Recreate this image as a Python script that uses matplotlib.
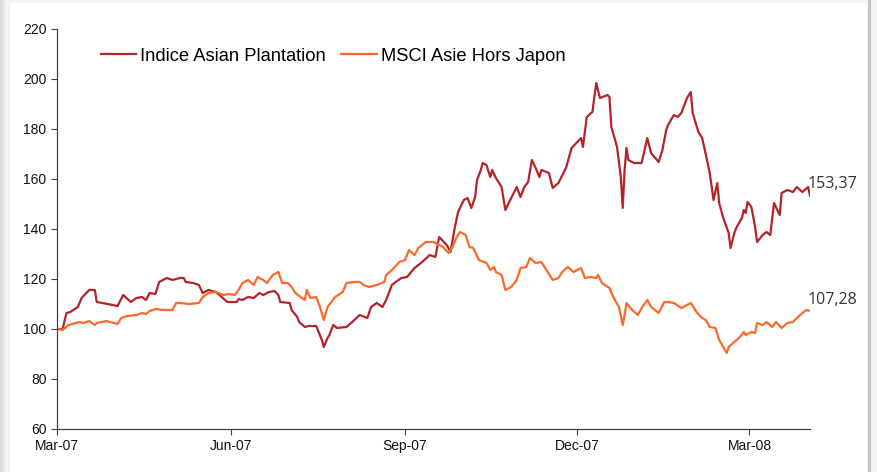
import numpy as np
import pandas as pd
import matplotlib
matplotlib.use("Agg")
import matplotlib.pyplot as plt
import matplotlib.dates as mdates
from matplotlib.patches import Rectangle

# Indice Asian Plantation (base 100)
dates_plant = [
    "2007-03-01", "2007-03-04", "2007-03-06", "2007-03-08", "2007-03-12", "2007-03-14",
    "2007-03-18", "2007-03-21", "2007-03-22", "2007-03-25", "2007-04-02", "2007-04-05",
    "2007-04-09", "2007-04-12", "2007-04-15", "2007-04-17", "2007-04-19", "2007-04-22",
    "2007-04-24", "2007-04-28", "2007-05-01", "2007-05-05", "2007-05-07", "2007-05-08",
    "2007-05-12", "2007-05-15", "2007-05-17", "2007-05-20", "2007-05-24", "2007-05-27",
    "2007-05-30", "2007-06-04", "2007-06-05", "2007-06-07", "2007-06-10", "2007-06-13",
    "2007-06-16", "2007-06-18", "2007-06-21", "2007-06-24", "2007-06-26", "2007-06-27",
    "2007-07-02", "2007-07-03", "2007-07-06", "2007-07-07", "2007-07-10", "2007-07-12",
    "2007-07-16", "2007-07-19", "2007-07-20", "2007-07-22", "2007-07-23", "2007-07-25",
    "2007-07-27", "2007-08-01", "2007-08-04", "2007-08-08", "2007-08-12", "2007-08-14",
    "2007-08-17", "2007-08-20", "2007-08-22", "2007-08-25", "2007-08-27", "2007-08-30",
    "2007-09-02", "2007-09-06", "2007-09-08", "2007-09-10", "2007-09-14", "2007-09-17",
    "2007-09-19", "2007-09-23", "2007-09-25", "2007-09-27", "2007-09-29", "2007-10-02",
    "2007-10-04", "2007-10-06", "2007-10-08", "2007-10-09", "2007-10-11", "2007-10-12",
    "2007-10-14", "2007-10-16", "2007-10-17", "2007-10-19", "2007-10-22", "2007-10-24",
    "2007-10-26", "2007-10-30", "2007-11-01", "2007-11-03", "2007-11-05", "2007-11-07",
    "2007-11-09", "2007-11-11", "2007-11-12", "2007-11-16", "2007-11-18", "2007-11-21",
    "2007-11-25", "2007-11-28", "2007-12-03", "2007-12-04", "2007-12-06", "2007-12-09",
    "2007-12-11", "2007-12-13", "2007-12-17", "2007-12-18", "2007-12-19", "2007-12-22",
    "2007-12-24", "2007-12-25", "2007-12-26", "2007-12-27", "2007-12-28", "2007-12-31",
    "2008-01-04", "2008-01-07", "2008-01-09", "2008-01-13", "2008-01-15", "2008-01-17",
    "2008-01-18", "2008-01-21", "2008-01-23", "2008-01-25", "2008-01-28", "2008-01-30",
    "2008-01-31", "2008-02-03", "2008-02-05", "2008-02-07", "2008-02-09", "2008-02-11",
    "2008-02-13", "2008-02-14", "2008-02-16", "2008-02-19", "2008-02-20", "2008-02-22",
    "2008-02-23", "2008-02-26", "2008-02-27", "2008-02-28", "2008-02-29", "2008-03-02",
    "2008-03-04", "2008-03-05", "2008-03-08", "2008-03-10", "2008-03-12", "2008-03-14",
    "2008-03-17", "2008-03-18", "2008-03-21", "2008-03-24", "2008-03-26", "2008-03-29",
    "2008-04-01", "2008-04-02",
]
values_plant = [
    100.0, 100.0, 106.4, 106.8, 108.8, 112.4,
    115.6, 115.6, 110.8, 110.4, 109.2, 113.6,
    110.8, 112.4, 112.8, 111.6, 114.4, 114.0,
    118.8, 120.4, 119.6, 120.4, 120.4, 118.8,
    118.4, 117.6, 114.4, 115.6, 114.8, 112.8,
    110.8, 110.8, 112.0, 111.6, 112.8, 112.4,
    114.4, 113.6, 114.8, 115.2, 113.6, 110.8,
    110.4, 107.6, 104.8, 102.8, 100.8, 101.2,
    101.2, 95.6, 92.8, 96.4, 97.6, 101.6,
    100.4, 100.8, 102.8, 105.6, 104.4, 108.8,
    110.4, 108.8, 111.6, 117.6, 118.8, 120.4,
    120.8, 124.4, 125.6, 126.8, 129.6, 128.8,
    136.8, 133.6, 130.8, 139.6, 146.8, 151.6,
    152.4, 148.4, 152.8, 159.6, 163.6, 166.4,
    165.6, 160.8, 163.6, 160.4, 156.8, 147.6,
    150.8, 156.8, 152.8, 156.8, 158.8, 167.6,
    164.4, 160.8, 163.6, 162.4, 156.4, 158.4,
    164.4, 172.4, 176.4, 172.8, 184.8, 186.8,
    198.4, 192.4, 193.6, 192.8, 180.8, 172.8,
    160.8, 148.4, 163.6, 172.4, 167.6, 166.4,
    166.4, 176.4, 170.4, 166.8, 171.6, 179.6,
    181.6, 185.6, 184.8, 186.4, 192.4, 194.8,
    186.4, 178.8, 176.4, 169.6, 162.4, 151.6,
    158.4, 150.4, 144.8, 138.4, 132.4, 138.4,
    140.4, 144.4, 147.6, 146.4, 150.8, 148.8,
    140.8, 134.8, 137.6, 138.8, 137.6, 150.4,
    145.6, 154.4, 155.6, 154.8, 156.8, 154.8,
    156.8, 153.37,
]

# MSCI Asie Hors Japon (base 100)
dates_msci = [
    "2007-03-01", "2007-03-04", "2007-03-07", "2007-03-13", "2007-03-15", "2007-03-18",
    "2007-03-21", "2007-03-22", "2007-03-27", "2007-04-02", "2007-04-04", "2007-04-07",
    "2007-04-12", "2007-04-15", "2007-04-17", "2007-04-19", "2007-04-22", "2007-04-26",
    "2007-05-01", "2007-05-03", "2007-05-05", "2007-05-10", "2007-05-15", "2007-05-17",
    "2007-05-20", "2007-05-24", "2007-05-28", "2007-05-31", "2007-06-03", "2007-06-05",
    "2007-06-07", "2007-06-10", "2007-06-13", "2007-06-15", "2007-06-18", "2007-06-20",
    "2007-06-23", "2007-06-26", "2007-06-28", "2007-07-01", "2007-07-03", "2007-07-05",
    "2007-07-07", "2007-07-10", "2007-07-11", "2007-07-13", "2007-07-16", "2007-07-18",
    "2007-07-20", "2007-07-22", "2007-07-26", "2007-07-30", "2007-08-01", "2007-08-05",
    "2007-08-08", "2007-08-10", "2007-08-13", "2007-08-17", "2007-08-21", "2007-08-22",
    "2007-08-25", "2007-08-29", "2007-09-01", "2007-09-03", "2007-09-06", "2007-09-08",
    "2007-09-12", "2007-09-16", "2007-09-19", "2007-09-21", "2007-09-24", "2007-09-26",
    "2007-09-28", "2007-09-30", "2007-10-03", "2007-10-05", "2007-10-07", "2007-10-10",
    "2007-10-14", "2007-10-16", "2007-10-18", "2007-10-19", "2007-10-22", "2007-10-24",
    "2007-10-27", "2007-10-30", "2007-11-01", "2007-11-04", "2007-11-06", "2007-11-09",
    "2007-11-12", "2007-11-18", "2007-11-21", "2007-11-23", "2007-11-26", "2007-11-29",
    "2007-12-03", "2007-12-05", "2007-12-08", "2007-12-11", "2007-12-12", "2007-12-14",
    "2007-12-18", "2007-12-20", "2007-12-23", "2007-12-25", "2007-12-26", "2007-12-27",
    "2007-12-30", "2008-01-02", "2008-01-04", "2008-01-07", "2008-01-09", "2008-01-13",
    "2008-01-16", "2008-01-18", "2008-01-21", "2008-01-25", "2008-01-30", "2008-02-02",
    "2008-02-05", "2008-02-07", "2008-02-09", "2008-02-12", "2008-02-14", "2008-02-18",
    "2008-02-19", "2008-02-22", "2008-02-25", "2008-02-27", "2008-02-28", "2008-03-02",
    "2008-03-04", "2008-03-05", "2008-03-08", "2008-03-10", "2008-03-13", "2008-03-15",
    "2008-03-18", "2008-03-21", "2008-03-24", "2008-03-26", "2008-03-29", "2008-03-31",
    "2008-04-02",
]
values_msci = [
    100.0, 99.6, 101.6, 102.8, 102.4, 103.2,
    101.6, 102.4, 103.2, 102.0, 104.4, 105.2,
    105.6, 106.4, 106.0, 107.2, 108.0, 107.6,
    107.6, 110.4, 110.4, 110.0, 110.4, 112.8,
    114.4, 114.8, 113.6, 114.0, 113.6, 115.6,
    118.4, 119.6, 117.6, 120.8, 119.6, 118.4,
    121.6, 122.8, 118.4, 118.4, 116.8, 114.4,
    113.2, 111.6, 115.6, 112.4, 112.8, 108.8,
    103.6, 108.8, 112.8, 114.8, 118.4, 118.8,
    118.8, 117.6, 116.8, 117.6, 118.8, 121.6,
    123.6, 126.8, 127.6, 131.6, 129.6, 132.4,
    134.8, 134.8, 133.6, 132.8, 130.4, 132.8,
    136.4, 138.8, 137.6, 132.8, 132.4, 127.6,
    126.4, 123.6, 124.8, 122.8, 121.6, 115.6,
    116.8, 119.6, 124.4, 124.8, 128.4, 126.4,
    126.8, 119.6, 120.4, 122.8, 124.8, 122.8,
    124.4, 120.4, 120.8, 120.4, 121.6, 118.4,
    116.4, 112.8, 108.8, 101.6, 105.6, 110.4,
    107.6, 105.6, 108.4, 111.6, 108.8, 106.4,
    110.8, 110.8, 110.4, 108.4, 110.4, 106.8,
    104.4, 103.6, 100.8, 100.4, 95.6, 90.4,
    92.8, 94.8, 96.8, 98.8, 97.6, 98.8,
    98.4, 102.4, 101.6, 102.8, 100.8, 102.8,
    100.4, 102.4, 102.8, 104.4, 106.4, 107.6,
    107.28,
]

labels = ["Indice Asian Plantation", "MSCI Asie Hors Japon"]
end_labels = ["153,37", "107,28"]
colors = ["#b3242a", "#fb6a2c"]

plant = pd.Series(values_plant, index=pd.to_datetime(dates_plant))
msci = pd.Series(values_msci, index=pd.to_datetime(dates_msci))

plt.rcParams["font.family"] = ["Liberation Sans", "DejaVu Sans"]

fig = plt.figure(figsize=(8.78, 4.72), dpi=100)
fig.patch.set_facecolor("white")

# cadre gris autour du graphique (ombre)
fig.patches.append(Rectangle((0, 0), 1, 1, transform=fig.transFigure,
                             facecolor="#f3f3f3", edgecolor="none", zorder=-3))
for i, g in enumerate(np.linspace(0.85, 0.97, 8)):
    fig.patches.append(Rectangle((i / 878, 0), 1 / 878, 1, transform=fig.transFigure,
                                 facecolor=str(g), edgecolor="none", zorder=-2))
fig.patches.append(Rectangle((10 / 878, 0), 857 / 878, 1 - 3 / 472,
                             transform=fig.transFigure, facecolor="white",
                             edgecolor="none", zorder=-1))
fig.patches.append(Rectangle((868 / 878, 0), 3 / 878, 1, transform=fig.transFigure,
                             facecolor="#c4c4c4", edgecolor="none", zorder=-1))

ax = fig.add_axes([57 / 878, 1 - 429 / 472, 753 / 878, 400 / 472])
ax.set_facecolor("none")

for serie, lab, col in zip([plant, msci], labels, colors):
    ax.plot(serie.index, serie.values, color=col, linewidth=1.6, label=lab)

for serie, txt in zip([plant, msci], end_labels):
    ax.annotate(txt, (serie.index[-1], serie.values[-1]), xytext=(-2, 8),
                textcoords="offset points", fontsize=11.5, color="#333333",
                family="Open Sans", va="center", ha="left", annotation_clip=False)

ax.set_ylim(60, 220)
ax.set_yticks(np.arange(60, 221, 20))
ax.set_xlim(pd.Timestamp("2007-03-01"), pd.Timestamp("2008-04-02"))
ax.set_xticks(pd.to_datetime(["2007-03-01", "2007-06-01", "2007-09-01",
                              "2007-12-01", "2008-03-01"]))
ax.xaxis.set_major_formatter(mdates.DateFormatter("%b-%y"))

for s in ["top", "right"]:
    ax.spines[s].set_visible(False)
for s in ["left", "bottom"]:
    ax.spines[s].set_color("#404040")
    ax.spines[s].set_linewidth(0.9)
ax.tick_params(axis="both", direction="out", length=4, width=0.8,
               color="#404040", labelsize=10, labelcolor="#111111")
ax.tick_params(axis="x", pad=3)

ax.legend(loc="center left", bbox_to_anchor=(0.058, 0.932), ncol=2,
          frameon=False, fontsize=13.2, handlelength=1.95, handletextpad=0.2,
          columnspacing=0.85, borderaxespad=0, borderpad=0)

fig.savefig("out.png", dpi=100, facecolor=fig.get_facecolor())
